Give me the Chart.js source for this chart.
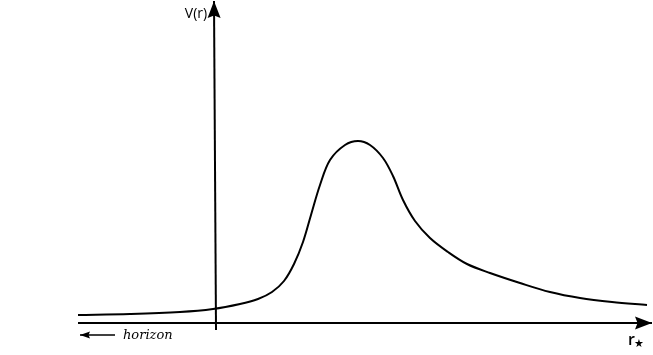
<!DOCTYPE html>
<html>
<head>
<meta charset="utf-8">
<script src="https://cdn.jsdelivr.net/npm/chart.js@4/dist/chart.umd.min.js"></script>
<style>
  html, body { margin: 0; padding: 0; background: #fff; }
  #wrap { width: 653px; height: 355px; }
</style>
</head>
<body>
<div id="wrap"><canvas id="potentialChart"></canvas></div>
<script>
// tortoise coordinate r* (x) and potential V(r) (y)
const rStar = [-135, -83, -33, 0, 27, 45, 59, 71, 81, 90, 98, 107, 117, 132, 145, 157, 170, 180, 190, 202, 217, 235, 254, 277, 307, 337, 367, 399, 434];
const potential = [8, 9, 11, 14, 19, 24, 31, 42, 59, 81, 108, 138, 163, 178, 182, 178, 165, 147, 123, 102, 85, 71, 59, 50, 40, 31, 25, 21, 18];

// hand drawn axes
const horizAxisX = [-135, 439];
const horizAxisY = [0, 0];
const vertAxisX = [3, 1];
const vertAxisY = [-7, 322];
const horizonArrowX = [-98, -133];
const horizonArrowY = [-12, -12];

const labels = {
    vr: { text: 'V(r)', x: -17, y: 309 },
    rs: { text: 'r', x: 422, y: -17 },
    horizon: { text: 'horizon', x: -90, y: -13 }
};

function toPoints(xs, ys) {
    return xs.map((x, i) => ({ x: x, y: ys[i] }));
}

const arrowPlugin = {
    id: 'arrows',
    afterDatasetsDraw(chart) {
        const ctx = chart.ctx;
        const sx = chart.scales.x;
        const sy = chart.scales.y;

        const head = (xs, ys, len, half) => {
            const n = xs.length - 1;
            const tx = sx.getPixelForValue(xs[n]), ty = sy.getPixelForValue(ys[n]);
            const px = sx.getPixelForValue(xs[n - 1]), py = sy.getPixelForValue(ys[n - 1]);
            const a = Math.atan2(ty - py, tx - px);
            ctx.save();
            ctx.fillStyle = '#000';
            ctx.beginPath();
            ctx.moveTo(tx, ty);
            ctx.lineTo(tx - len * Math.cos(a) - half * Math.sin(a), ty - len * Math.sin(a) + half * Math.cos(a));
            ctx.lineTo(tx - len * 0.85 * Math.cos(a), ty - len * 0.85 * Math.sin(a));
            ctx.lineTo(tx - len * Math.cos(a) + half * Math.sin(a), ty - len * Math.sin(a) - half * Math.cos(a));
            ctx.closePath();
            ctx.fill();
            ctx.restore();
        };
        head(vertAxisX, vertAxisY, 17, 6.5);
        head(horizAxisX, horizAxisY, 17, 6.5);
        head(horizonArrowX, horizonArrowY, 10, 3.5);

        ctx.save();
        ctx.fillStyle = '#000';
        ctx.textBaseline = 'middle';
        ctx.font = '14px "Open Sans", sans-serif';
        ctx.textAlign = 'center';
        ctx.fillText(labels.vr.text, sx.getPixelForValue(labels.vr.x), sy.getPixelForValue(labels.vr.y));
        ctx.textAlign = 'left';
        const rx = sx.getPixelForValue(labels.rs.x), ry = sy.getPixelForValue(labels.rs.y);
        ctx.font = '600 16px "Open Sans", sans-serif';
        ctx.fillText(labels.rs.text, rx - 7, ry);
        ctx.font = 'bold 11px "DejaVu Sans", sans-serif';
        ctx.fillText('\u2605', rx - 1, ry + 4);
        ctx.font = 'italic 13px "DejaVu Serif", serif';
        ctx.fillText(labels.horizon.text, sx.getPixelForValue(labels.horizon.x), sy.getPixelForValue(labels.horizon.y));
        ctx.restore();
    }
};

const lineStyle = { borderColor: '#000', pointRadius: 0, showLine: true, fill: false };

new Chart(document.getElementById('potentialChart'), {
    type: 'scatter',
    data: {
        datasets: [
            Object.assign({ label: 'V(r)', data: toPoints(rStar, potential), borderWidth: 2, tension: 0.35 }, lineStyle),
            Object.assign({ label: 'r axis', data: toPoints(horizAxisX, horizAxisY), borderWidth: 2 }, lineStyle),
            Object.assign({ label: 'V axis', data: toPoints(vertAxisX, vertAxisY), borderWidth: 2 }, lineStyle),
            Object.assign({ label: 'horizon', data: toPoints(horizonArrowX, horizonArrowY), borderWidth: 1.5 }, lineStyle)
        ]
    },
    options: {
        responsive: true,
        maintainAspectRatio: false,
        animation: false,
        layout: { padding: 0 },
        plugins: { legend: { display: false }, tooltip: { enabled: false } },
        scales: {
            x: { type: 'linear', display: false, min: -213, max: 440 },
            y: { type: 'linear', display: false, min: -32, max: 323 }
        }
    },
    plugins: [arrowPlugin]
});
</script>
</body>
</html>
